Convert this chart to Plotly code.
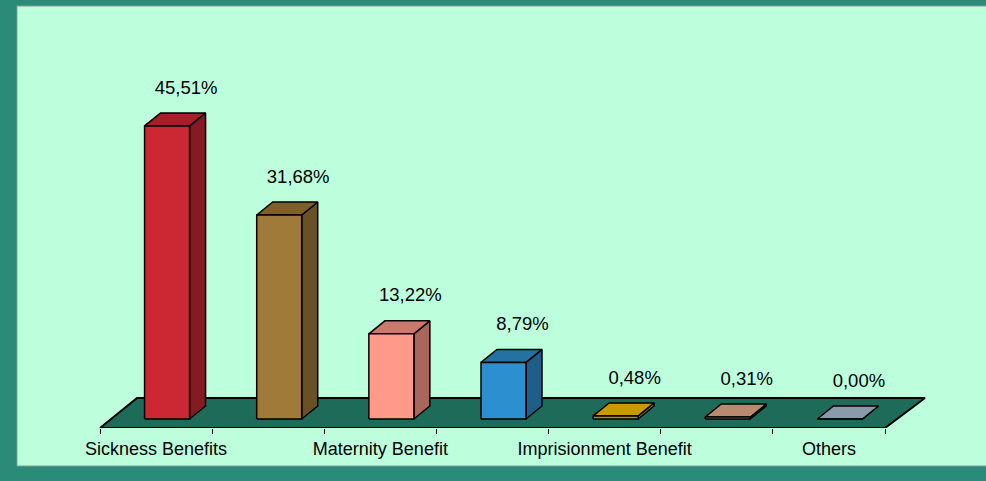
import plotly.graph_objects as go

# Chart data
categories = [0, 1, 2, 3, 4, 5, 6]
tick_labels = ["Sickness Benefits", "", "Maternity Benefit", "", "Imprisionment Benefit", "", "Others"]
shares = [45.51, 31.68, 13.22, 8.79, 0.48, 0.31, 0.00]
share_text = ["45,51%", "31,68%", "13,22%", "8,79%", "0,48%", "0,31%", "0,00%"]

# Bar colours (front, top, side)
front_colors = ["#CC2833", "#A07A38", "#FF9A8A", "#2C8FCF", "#C08A00", "#B08068", "#8090A0"]
top_colors = ["#A41F2A", "#7E5F2B", "#C97A6C", "#2472A3", "#C99A00", "#B98A70", "#8A9AA8"]
side_colors = ["#861A23", "#6A5025", "#A8665C", "#1F5E88", "#A07800", "#906858", "#708090"]

# pixel -> data unit helpers for the fake 3D depth
XU = 7 / 785
YU = 1 / 6.44
hw = 22.5 * XU
dx = 16 * XU
dy = 13 * YU
shift = 11 * XU

fig = go.Figure()

# floor
lo = categories[0] - 0.5
hi = categories[-1] + 0.5
fig.add_trace(go.Scatter(
    x=[lo, hi, hi + 40 * XU, lo + 37 * XU, lo],
    y=[-9 * YU, -9 * YU, 21 * YU, 21 * YU, -9 * YU],
    fill="toself", fillcolor="#1F6B5A", mode="lines",
    line=dict(color="black", width=2), hoverinfo="skip", showlegend=False))

for i, v in zip(categories, shares):
    cx = i + shift
    side = ([cx + hw, cx + hw + dx, cx + hw + dx, cx + hw, cx + hw], [0, dy, v + dy, v, 0])
    top = ([cx - hw, cx + hw, cx + hw + dx, cx - hw + dx, cx - hw], [v, v, v + dy, v + dy, v])
    front = ([cx - hw, cx + hw, cx + hw, cx - hw, cx - hw], [0, 0, v, v, 0])
    for (xs, ys), col in [(side, side_colors[i]), (top, top_colors[i]), (front, front_colors[i])]:
        fig.add_trace(go.Scatter(
            x=xs, y=ys, fill="toself", fillcolor=col, mode="lines",
            line=dict(color="black", width=1.5), hoverinfo="skip", showlegend=False))

# value labels
fig.add_trace(go.Scatter(
    x=[c + shift + 19 * XU for c in categories],
    y=[v + 37 * YU for v in shares],
    text=share_text, mode="text",
    textfont=dict(family="Liberation Sans, Arial", size=18.5, color="black"),
    hoverinfo="skip", showlegend=False))

L, R, T, B = 30, 960, 60, 428
W, H = 986, 481

# light inner panel over the teal frame
fig.add_shape(type="rect", xref="paper", yref="paper", layer="below",
              x0=(17 - L) / (R - L), x1=(987 - L) / (R - L),
              y0=(B - 466) / (B - T), y1=(B - 6) / (B - T),
              fillcolor="#BDFFDD", line=dict(color="#8A9A94", width=1))

fig.update_layout(
    width=W, height=H,
    margin=dict(l=L, r=W - R, t=T, b=H - B),
    paper_bgcolor="#2A8C78",
    plot_bgcolor="rgba(0,0,0,0)",
    font=dict(family="Liberation Sans, Arial", size=18, color="black"),
    xaxis=dict(
        range=[lo - 70 * XU, hi + 75 * XU],
        tickmode="array", tickvals=categories[::2], ticktext=tick_labels[::2],
        ticks="", ticklabelstandoff=8, showgrid=False, zeroline=False, showline=False,
        minor=dict(tickmode="array", tickvals=[c - 0.5 for c in categories] + [hi],
                   ticks="outside", ticklen=5, tickcolor="black", showgrid=False),
    ),
    yaxis=dict(range=[-9 * YU, (419 - T) * YU], visible=False),
)

fig.write_html("out.html", config={"displayModeBar": False},
               post_script="document.body.style.margin='0';")
